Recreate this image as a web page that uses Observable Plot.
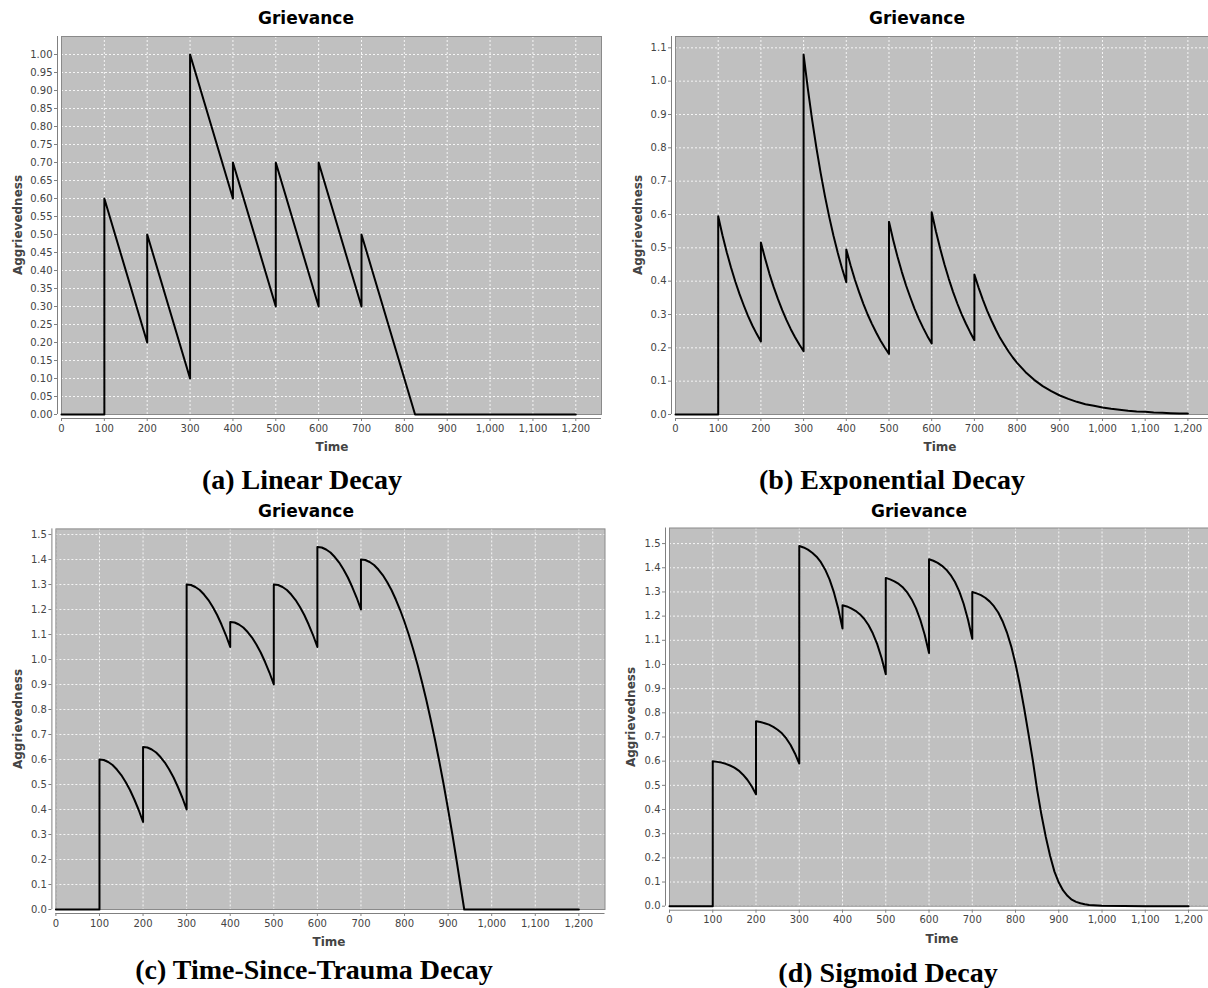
<!DOCTYPE html>
<html><head><meta charset="utf-8">
<script src="https://cdn.jsdelivr.net/npm/d3@7"></script>
<script src="https://cdn.jsdelivr.net/npm/@observablehq/plot@0.6"></script>
<style>
html,body{margin:0;padding:0;background:#fff;overflow:hidden}
#page{position:relative;width:1208px;height:988px;overflow:hidden;background:#fff}
.panel{position:absolute}
.panel svg{max-width:none !important}
.title{position:absolute;font:bold 17px "DejaVu Sans";color:#000;transform:translate(-50%,-50%);white-space:nowrap}
.xlab{position:absolute;font:bold 12px "DejaVu Sans";color:#444;transform:translate(-50%,-50%);white-space:nowrap}
.ylab{position:absolute;font:bold 12px "DejaVu Sans";color:#444;transform:translate(-50%,-50%) rotate(-90deg);white-space:nowrap}
.cap{position:absolute;font:bold 28px "Liberation Serif";color:#000;transform:translate(-50%,-50%);white-space:nowrap}
</style></head>
<body><div id="page"></div>
<script>
// ---------- data ----------
const chartTitle = "Grievance";
const xAxisLabel = "Time";
const yAxisLabel = "Aggrievedness";
const captions = ["(a) Linear Decay", "(b) Exponential Decay", "(c) Time-Since-Trauma Decay", "(d) Sigmoid Decay"];
const timeTicks = [0,100,200,300,400,500,600,700,800,900,1000,1100,1200];
const ticksA = [0,0.05,0.1,0.15,0.2,0.25,0.3,0.35,0.4,0.45,0.5,0.55,0.6,0.65,0.7,0.75,0.8,0.85,0.9,0.95,1.0];
const ticksB = [0,0.1,0.2,0.3,0.4,0.5,0.6,0.7,0.8,0.9,1.0,1.1];
const ticksCD = [0,0.1,0.2,0.3,0.4,0.5,0.6,0.7,0.8,0.9,1.0,1.1,1.2,1.3,1.4,1.5];

const linearDecay = [[0,0],[100,0],[100,0.6],[200,0.2],[200,0.5],[300,0.1],[300,1.0],[400,0.6],[400,0.7],[500,0.3],[500,0.7],[600,0.3],[600,0.7],[700,0.3],[700,0.5],[825,0],[1200,0]];

const exponentialDecay = [[0,0],[100,0],
[100,0.595],[110,0.538],[120,0.487],[130,0.441],[140,0.399],[150,0.361],[160,0.327],[170,0.295],[180,0.267],[190,0.242],[200,0.219],
[200,0.516],[210,0.467],[220,0.422],[230,0.382],[240,0.346],[250,0.313],[260,0.283],[270,0.256],[280,0.232],[290,0.210],[300,0.190],
[300,1.080],[310,0.977],[320,0.884],[330,0.800],[340,0.724],[350,0.655],[360,0.593],[370,0.536],[380,0.485],[390,0.439],[400,0.397],
[400,0.495],[410,0.448],[420,0.405],[430,0.367],[440,0.332],[450,0.300],[460,0.272],[470,0.246],[480,0.222],[490,0.201],[500,0.182],
[500,0.578],[510,0.523],[520,0.473],[530,0.428],[540,0.387],[550,0.351],[560,0.317],[570,0.287],[580,0.260],[590,0.235],[600,0.213],
[600,0.607],[610,0.549],[620,0.497],[630,0.450],[640,0.407],[650,0.368],[660,0.333],[670,0.301],[680,0.273],[690,0.247],[700,0.223],
[700,0.420],[710,0.380],[720,0.344],[730,0.311],[740,0.282],[750,0.255],[760,0.230],[770,0.209],[780,0.189],[790,0.171],[800,0.155],
[820,0.127],[840,0.104],[860,0.085],[880,0.070],[900,0.057],[920,0.047],[940,0.038],[960,0.031],[980,0.026],[1000,0.021],[1020,0.017],
[1040,0.014],[1060,0.011],[1080,0.009],[1100,0.008],[1120,0.006],[1140,0.005],[1160,0.004],[1180,0.003],[1200,0.003]];

const traumaDecay = [[0,0],[100,0],
[100,0.600],[110,0.598],[120,0.590],[130,0.578],[140,0.560],[150,0.538],[160,0.510],[170,0.478],[180,0.440],[190,0.398],[200,0.350],
[200,0.650],[210,0.648],[220,0.640],[230,0.628],[240,0.610],[250,0.588],[260,0.560],[270,0.528],[280,0.490],[290,0.448],[300,0.400],
[300,1.300],[310,1.298],[320,1.290],[330,1.278],[340,1.260],[350,1.238],[360,1.210],[370,1.178],[380,1.140],[390,1.098],[400,1.050],
[400,1.150],[410,1.148],[420,1.140],[430,1.128],[440,1.110],[450,1.088],[460,1.060],[470,1.028],[480,0.990],[490,0.948],[500,0.900],
[500,1.300],[510,1.298],[520,1.290],[530,1.278],[540,1.260],[550,1.238],[560,1.210],[570,1.178],[580,1.140],[590,1.098],[600,1.050],
[600,1.450],[610,1.448],[620,1.440],[630,1.428],[640,1.410],[650,1.388],[660,1.360],[670,1.328],[680,1.290],[690,1.248],[700,1.200],
[700,1.400],[710,1.398],[720,1.390],[730,1.378],[740,1.360],[750,1.338],[760,1.310],[770,1.278],[780,1.240],[790,1.198],[800,1.150],
[810,1.098],[820,1.040],[830,0.978],[840,0.910],[850,0.838],[860,0.760],[870,0.678],[880,0.590],[890,0.498],[900,0.400],[910,0.298],
[920,0.190],[930,0.078],[937,0],[1200,0]];

const sigmoidDecay = [[0,0],[100,0],
[100,0.600],[110,0.597],[120,0.594],[130,0.589],[140,0.582],[150,0.573],[160,0.561],[170,0.544],[180,0.523],[190,0.496],[200,0.463],
[200,0.765],[210,0.762],[220,0.757],[230,0.751],[240,0.742],[250,0.730],[260,0.715],[270,0.694],[280,0.667],[290,0.632],[300,0.590],
[300,1.490],[310,1.484],[320,1.475],[330,1.462],[340,1.446],[350,1.423],[360,1.392],[370,1.352],[380,1.299],[390,1.232],[400,1.149],
[400,1.245],[410,1.240],[420,1.232],[430,1.222],[440,1.208],[450,1.189],[460,1.163],[470,1.129],[480,1.085],[490,1.029],[500,0.960],
[500,1.358],[510,1.352],[520,1.344],[530,1.333],[540,1.318],[550,1.297],[560,1.269],[570,1.232],[580,1.184],[590,1.123],[600,1.047],
[600,1.435],[610,1.429],[620,1.420],[630,1.408],[640,1.392],[650,1.370],[660,1.341],[670,1.302],[680,1.251],[690,1.186],[700,1.106],
[700,1.300],[710,1.294],[720,1.287],[730,1.276],[740,1.261],[750,1.241],[760,1.215],[770,1.179],[780,1.133],[790,1.075],[800,1.002],
[810,0.916],[820,0.818],[830,0.712],[840,0.603],[850,0.481],[860,0.377],[870,0.286],[880,0.208],[890,0.143],[900,0.098],[910,0.065],
[920,0.043],[930,0.027],[940,0.018],[950,0.012],[960,0.008],[970,0.005],[980,0.004],[990,0.003],[1000,0.002],[1050,0.001],[1100,0],[1200,0]];

// ---------- layout ----------
const panels = [
  {data: linearDecay, ticks: ticksA, fmt: d3.format(".2f"), yTop: 1.05,
   left: 0, top: 0, w: 604, h: 460, ml: 61, mr: 3, mt: 36, mb: 46,
   title: [306, 18], ylab: [18, 225], xlab: [332, 447], cap: [302, 480]},
  {data: exponentialDecay, ticks: ticksB, fmt: d3.format(".1f"), yTop: 1.134,
   left: 604, top: 0, w: 620, h: 460, ml: 71, mr: 11, mt: 36, mb: 46,
   title: [917, 18], ylab: [638, 225], xlab: [940, 447], cap: [892, 480]},
  {data: traumaDecay, ticks: ticksCD, fmt: d3.format(".1f"), yTop: 1.5225,
   left: 0, top: 490, w: 610, h: 470, ml: 55.4, mr: 5.5, mt: 38.4, mb: 51,
   title: [306, 511], ylab: [18, 719], xlab: [329, 942], cap: [314, 970]},
  {data: sigmoidDecay, ticks: ticksCD, fmt: d3.format(".1f"), yTop: 1.5645,
   left: 604, top: 490, w: 620, h: 470, ml: 65, mr: 10, mt: 37.5, mb: 54.3,
   title: [919, 511], ylab: [631, 717], xlab: [942, 939], cap: [888, 973]}
];

const page = document.getElementById("page");
const gridStyle = {stroke: "#ffffff", strokeOpacity: 0.85, strokeDasharray: "2,2", strokeWidth: 1};

panels.forEach((p, i) => {
  const chart = Plot.plot({
    width: p.w, height: p.h,
    marginLeft: p.ml, marginRight: p.mr, marginTop: p.mt, marginBottom: p.mb,
    style: {background: "transparent", overflow: "visible", fontFamily: "DejaVu Sans", fontSize: "10px"},
    x: {domain: [0, 1260]},
    y: {domain: [0, p.yTop]},
    marks: [
      Plot.frame({fill: "#c0c0c0", stroke: null}),
      Plot.gridX(timeTicks, gridStyle),
      Plot.gridY(p.ticks, gridStyle),
      Plot.frame({stroke: "#8a8a8a", strokeWidth: 1}),
      Plot.ruleX([0], {dx: -4, stroke: "#808080"}),
      Plot.ruleY([0], {dy: 4, stroke: "#808080"}),
      Plot.axisY(p.ticks, {tickFormat: p.fmt, tickSize: 3, dx: -4, tickPadding: 2, label: null, color: "#444", stroke: "#808080", fontSize: 10}),
      Plot.axisX(timeTicks, {tickFormat: d3.format(","), tickSize: 3, dy: 4, tickPadding: 3, label: null, color: "#444", stroke: "#808080", fontSize: 10}),
      Plot.line(p.data, {x: d => d[0], y: d => d[1], stroke: "#000", strokeWidth: 2})
    ]
  });
  const div = document.createElement("div");
  div.className = "panel";
  div.style.left = p.left + "px";
  div.style.top = p.top + "px";
  div.style.width = p.w + "px";
  div.appendChild(chart);
  page.appendChild(div);

  const addText = (cls, txt, pos) => {
    const t = document.createElement("div");
    t.className = cls;
    t.textContent = txt;
    t.style.left = pos[0] + "px";
    t.style.top = pos[1] + "px";
    page.appendChild(t);
  };
  addText("title", chartTitle, p.title);
  addText("ylab", yAxisLabel, p.ylab);
  addText("xlab", xAxisLabel, p.xlab);
  addText("cap", captions[i], p.cap);
});
</script>
</body></html>
